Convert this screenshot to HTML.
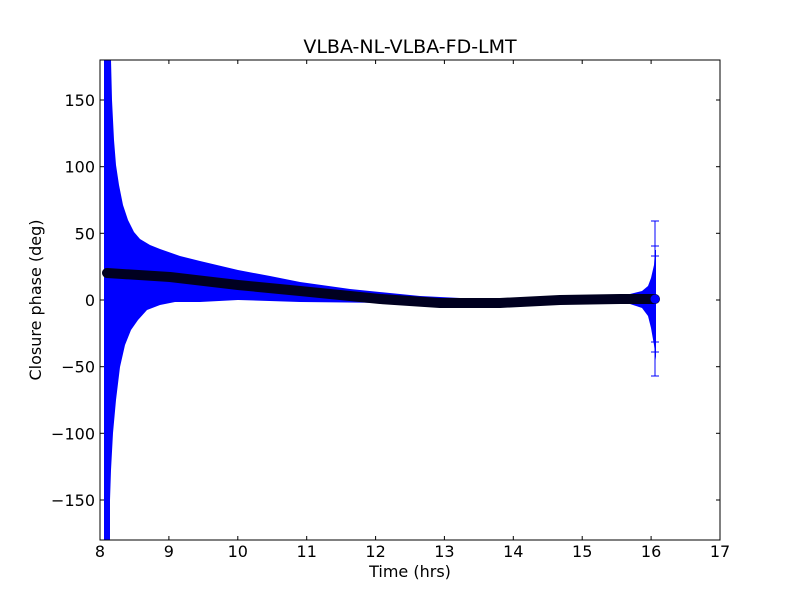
<!DOCTYPE html>
<html><head><style>body{margin:0;background:#fff}svg{display:block}</style></head><body>
<svg width="800" height="600" xmlns="http://www.w3.org/2000/svg" font-family="DejaVu Sans, Liberation Sans, sans-serif">
<rect width="800" height="600" fill="#fff"/>
<defs><clipPath id="c"><rect x="100" y="60" width="620" height="480"/></clipPath></defs>
<g clip-path="url(#c)">
<polygon fill="#0000ff" points="104,60 111,60 112,100 114,140 116,165 119,185 123,205 128,220 134,232 140,239 150,245 160,249 180,256 200,261 238,270 270,276 300,282 350,289 420,296 480,299 540,298 600,296 630,294 642,291 648,286 651,278 654,265 655,250 656,250 656,360 654,345 651,328 648,316 642,308 630,304 600,301 560,300 480,302 400,303 300,302 238,300 200,302 175,302 160,305 147,310 138,320 131,330 125,345 120,367 116,400 113,433 111,470 110,500 110,540 104,540"/>
<g stroke="#0000ff" stroke-width="1">
<line x1="655" y1="221" x2="655" y2="376"/>
<line x1="651" y1="221" x2="659" y2="221"/><line x1="651" y1="376" x2="659" y2="376"/>
<line x1="651" y1="246" x2="659" y2="246"/><line x1="651" y1="352" x2="659" y2="352"/>
<line x1="651" y1="256" x2="659" y2="256"/><line x1="651" y1="342" x2="659" y2="342"/>
</g>
<polyline fill="none" stroke="#000020" stroke-width="10" stroke-linecap="round" stroke-linejoin="round" points="107,273 170,277 238,285 300,291 380,299 440,303 500,303 560,300 620,299 655,299"/>
<circle cx="107" cy="273" r="4.5" fill="#000020"/>
<circle cx="655" cy="299" r="4.5" fill="#0000ff"/>
</g>
<rect x="100" y="60" width="620" height="480" fill="none" stroke="#000" stroke-width="1"/>
<g stroke="#000" stroke-width="1">
<line x1="168.9" y1="540" x2="168.9" y2="536"/><line x1="237.8" y1="540" x2="237.8" y2="536"/><line x1="306.7" y1="540" x2="306.7" y2="536"/><line x1="375.6" y1="540" x2="375.6" y2="536"/><line x1="444.4" y1="540" x2="444.4" y2="536"/><line x1="513.3" y1="540" x2="513.3" y2="536"/><line x1="582.2" y1="540" x2="582.2" y2="536"/><line x1="651.1" y1="540" x2="651.1" y2="536"/>
<line x1="168.9" y1="60" x2="168.9" y2="64"/><line x1="237.8" y1="60" x2="237.8" y2="64"/><line x1="306.7" y1="60" x2="306.7" y2="64"/><line x1="375.6" y1="60" x2="375.6" y2="64"/><line x1="444.4" y1="60" x2="444.4" y2="64"/><line x1="513.3" y1="60" x2="513.3" y2="64"/><line x1="582.2" y1="60" x2="582.2" y2="64"/><line x1="651.1" y1="60" x2="651.1" y2="64"/>
<line x1="100" y1="100" x2="104" y2="100"/><line x1="100" y1="166.7" x2="104" y2="166.7"/><line x1="100" y1="233.3" x2="104" y2="233.3"/><line x1="100" y1="300" x2="104" y2="300"/><line x1="100" y1="366.7" x2="104" y2="366.7"/><line x1="100" y1="433.3" x2="104" y2="433.3"/><line x1="100" y1="500" x2="104" y2="500"/>
<line x1="720" y1="100" x2="716" y2="100"/><line x1="720" y1="166.7" x2="716" y2="166.7"/><line x1="720" y1="233.3" x2="716" y2="233.3"/><line x1="720" y1="300" x2="716" y2="300"/><line x1="720" y1="366.7" x2="716" y2="366.7"/><line x1="720" y1="433.3" x2="716" y2="433.3"/><line x1="720" y1="500" x2="716" y2="500"/>
</g>
<g font-size="16" text-anchor="middle" fill="#000">
<text x="100" y="557">8</text><text x="168.9" y="557">9</text><text x="237.8" y="557">10</text><text x="306.7" y="557">11</text><text x="375.6" y="557">12</text><text x="444.4" y="557">13</text><text x="513.3" y="557">14</text><text x="582.2" y="557">15</text><text x="651.1" y="557">16</text><text x="720" y="557">17</text>
</g>
<g font-size="16" text-anchor="end" fill="#000">
<text x="95" y="106">150</text><text x="95" y="172.7">100</text><text x="95" y="239.3">50</text><text x="95" y="306">0</text><text x="95" y="372.7">−50</text><text x="95" y="439.3">−100</text><text x="95" y="506">−150</text>
</g>
<text x="410" y="577" font-size="16" text-anchor="middle">Time (hrs)</text>
<text x="41" y="300" font-size="16" text-anchor="middle" transform="rotate(-90 41 300)">Closure phase (deg)</text>
<text x="410" y="53" font-size="19" text-anchor="middle">VLBA-NL-VLBA-FD-LMT</text>
</svg>
</body></html>
